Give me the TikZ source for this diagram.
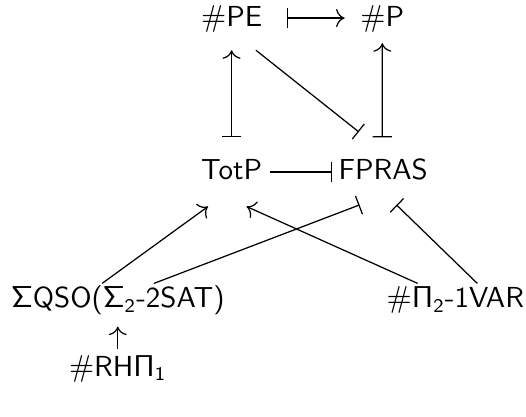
\documentclass[tikz,border=0pt]{standalone}
\usepackage{amsmath}
\usetikzlibrary{arrows.meta}

\tikzset{
  barto/.style={{Bar[width=7pt]}-{Computer Modern Rightarrow[scale=1.2]}},
  tobar/.style={-{Bar[width=7pt]}},
  onto/.style={-{Computer Modern Rightarrow[scale=1.2]}}
}

\begin{document}
\begin{tikzpicture}[every node/.style={anchor=base, inner sep=0pt, font=\fontsize{10.5}{13}\selectfont\sffamily},
    line width=0.45pt]
    \useasboundingbox (0,0) rectangle (6.70,5.30);
    \node (pe) at (2.95,4.96) {$\#$PE};
    \node (p) at (4.87,4.96) {$\#$P};
    \node (totp) at (2.95,3.02) {TotP};
    \node (fpras) at (4.88,3.02) {FPRAS};
    \node (qso) at (1.50,1.38) {$\mathsf{\Sigma}$QSO($\mathsf{\Sigma_2}$-2SAT)};
    \node (pivar) at (5.80,1.38) {$\#\mathsf{\Pi_2}$-1VAR};
    \node (rh) at (1.50,0.51) {$\#$RH$\mathsf{\Pi_1}$};
    % |-> edges
    \foreach \from/\fs/\to/\ts in
    {pe/{0.70,0.11}/p/{-0.48,0.11}, totp/{0,0.53}/pe/{0,-0.30}, fpras/{-0.01,0.53}/p/{0,-0.21}}
    \draw[barto] ([shift={(\fs)}]\from.base) -- ([shift={(\ts)}]\to.base);
    % -| edges
    \foreach \from/\fs/\to/\ts in
    {pe/{0.31,-0.30}/fpras/{-0.31,0.60}, totp/{0.49,0.09}/fpras/{-0.65,0.09},
     qso/{0.46,0.31}/fpras/{-0.30,-0.33}, pivar/{0.28,0.31}/fpras/{0.17,-0.33}}
    \draw[tobar] ([shift={(\fs)}]\from.base) -- ([shift={(\ts)}]\to.base);
    % -> edges
    \foreach \from/\fs/\to/\ts in
    {qso/{-0.20,0.31}/totp/{-0.30,-0.35}, pivar/{-0.48,0.31}/totp/{0.19,-0.35},
     rh/{0,0.35}/qso/{0,-0.24}}
    \draw[onto] ([shift={(\fs)}]\from.base) -- ([shift={(\ts)}]\to.base);
\end{tikzpicture}
\end{document}
